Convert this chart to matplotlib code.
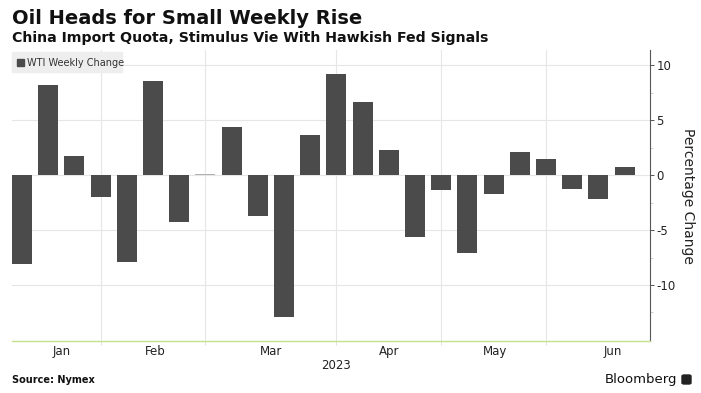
import matplotlib.pyplot as plt
import matplotlib.patches as mpatches
import numpy as np

# weekly WTI % change, 2023 (24 weeks)
weekly_change = [-8.1, 8.25, 1.75, -1.95, -7.9, 8.6, -4.25, 0.08,
                 4.35, -3.75, -12.9, 3.7, 9.2, 6.65, 2.25, -5.6,
                 -1.35, -7.05, -1.75, 2.1, 1.5, -1.25, -2.2, 0.7]
month_labels = ['Jan', 'Feb', 'Mar', 'Apr', 'May', 'Jun']
month_label_pos = [1.53, 5.1, 9.5, 14.0, 18.05, 22.55]
month_grid_pos = [3, 7, 12, 16, 20]
y_ticks = [-10, -5, 0, 5, 10]

BAR_COLOR = '#4b4b4b'
GRID_COLOR = '#e6e6e6'

fig = plt.figure(figsize=(7.01, 3.93), dpi=100)
ax = fig.add_axes([12 / 701, 52 / 393, 638 / 701, 291 / 393])

x = np.arange(len(weekly_change))
colors = [BAR_COLOR if abs(v) > 0.2 else '#b0b0b0' for v in weekly_change]
ax.bar(x, weekly_change, width=0.76, color=colors, zorder=3)

ax.set_xlim(-0.38, 23.97)
ax.set_ylim(-15.1, 11.4)

# grid
for g in month_grid_pos:
    ax.axvline(g, color=GRID_COLOR, lw=0.8, zorder=1)
for t in y_ticks:
    ax.axhline(t, color=GRID_COLOR, lw=0.8, zorder=1)

# axes styling
for side in ['top', 'left']:
    ax.spines[side].set_visible(False)
ax.spines['right'].set_color('#555555')
ax.spines['right'].set_linewidth(0.8)
ax.spines['bottom'].set_color('#c5e08a')
ax.spines['bottom'].set_linewidth(1.0)

ax.yaxis.tick_right()
ax.yaxis.set_label_position('right')
ax.set_yticks(y_ticks)
ax.set_yticklabels([str(t) for t in y_ticks])
ax.set_yticks([-12.5, -7.5, -2.5, 2.5, 7.5], minor=True)
ax.tick_params(axis='y', which='major', length=3, width=0.7, color='#555555',
               labelsize=8.5, labelcolor='#222222', pad=1.5)
ax.tick_params(axis='y', which='minor', length=2, width=0.5, color='#bbbbbb')
ax.set_ylabel('Percentage Change', rotation=270, fontsize=10, color='#222222',
              labelpad=14)

ax.set_xticks(month_grid_pos)
ax.set_xticklabels([])
ax.tick_params(axis='x', which='major', length=3, width=0.6, color='#dddddd')
for lbl, pos in zip(month_labels, month_label_pos):
    ax.text(pos, -0.015, lbl, transform=ax.get_xaxis_transform(),
            ha='center', va='top', fontsize=8.5, color='#222222')
ax.text(12.0, -0.062, '2023', transform=ax.get_xaxis_transform(),
        ha='center', va='top', fontsize=8.5, color='#222222')

# legend box
fig.patches.append(mpatches.Rectangle((12 / 701, 1 - 72 / 393), 110 / 701, 20 / 393,
                                      transform=fig.transFigure, color='#eeeeee',
                                      zorder=0))
fig.patches.append(mpatches.Rectangle((17 / 701, 1 - 66 / 393), 7 / 701, 7 / 393,
                                      transform=fig.transFigure, color=BAR_COLOR))
fig.text(27 / 701, 1 - 62.5 / 393, 'WTI Weekly Change', fontsize=7,
         color='#333333', va='center', ha='left')

# titles
fig.text(12 / 701, 1 - 19 / 393, 'Oil Heads for Small Weekly Rise', fontsize=14,
         fontweight='bold', color='#111111', va='center', ha='left')
fig.text(12 / 701, 1 - 38 / 393, 'China Import Quota, Stimulus Vie With Hawkish Fed Signals',
         fontsize=10.2, fontweight='bold', color='#111111', va='center', ha='left')

# footer
fig.text(12 / 701, 1 - 380 / 393, 'Source: Nymex', fontsize=7, fontweight='bold',
         color='#111111', va='center', ha='left')
fig.text(677 / 701, 1 - 379 / 393, 'Bloomberg', fontsize=9.5, color='#111111',
         va='center', ha='right')
fig.patches.append(mpatches.FancyBboxPatch((682 / 701, 1 - 384 / 393), 9 / 701, 9 / 393,
                                           boxstyle='round,pad=0,rounding_size=0.003',
                                           transform=fig.transFigure, color='#222222'))

fig.savefig('out.png', dpi=100)
